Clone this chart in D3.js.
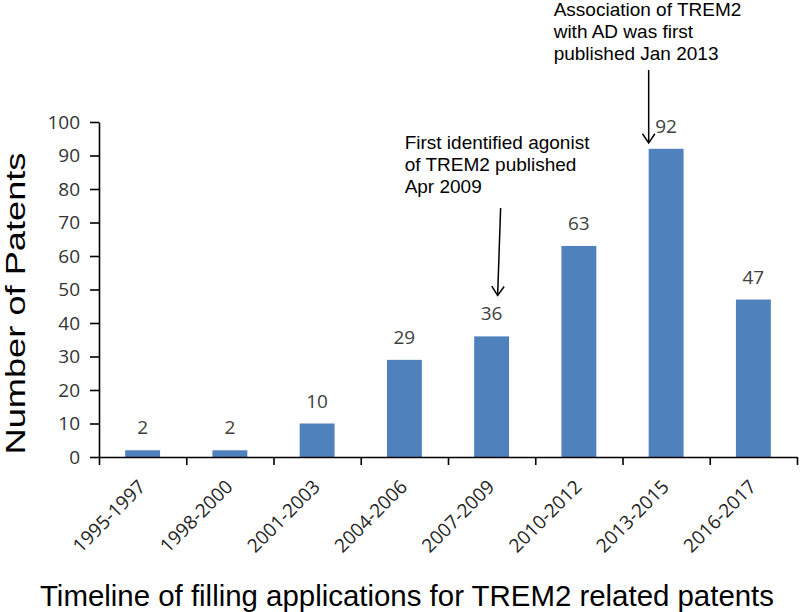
<!DOCTYPE html>
<html>
<head>
<meta charset="utf-8">
<script src="https://cdn.jsdelivr.net/npm/d3@7"></script>
<style>
  html, body { margin: 0; padding: 0; background: #fff; }
  svg { display: block; }
</style>
</head>
<body>
<svg id="chart" width="800" height="612"></svg>
<script>
const categories = ["1995-1997", "1998-2000", "2001-2003", "2004-2006", "2007-2009", "2010-2012", "2013-2015", "2016-2017"];
const patents = [2, 2, 10, 29, 36, 63, 92, 47];
const yTicks = [0, 10, 20, 30, 40, 50, 60, 70, 80, 90, 100];
const yTitle = "Number of Patents";
const xTitle = "Timeline of filling applications for TREM2 related patents";
const note2013 = ["Association of TREM2", "with AD was first", "published Jan 2013"];
const note2009 = ["First identified agonist", "of TREM2 published", "Apr 2009"];

(function () {
const svg = d3.select("#chart");
const pLeft = 99, pRight = 797, pTop = 122, pBottom = 457;

const x = d3.scaleBand().domain(categories).range([pLeft, pRight]).paddingInner(0.6).paddingOuter(0.3);
const y = d3.scaleLinear().domain([0, 100]).range([pBottom, pTop]);

const tickFont = "'Open Sans', sans-serif";
const arialFont = "'Liberation Sans', Arial, sans-serif";

// bars
svg.append("g").selectAll("rect").data(patents).join("rect")
  .attr("x", (d, i) => x(categories[i]))
  .attr("y", d => y(d))
  .attr("width", x.bandwidth())
  .attr("height", d => y(0) - y(d))
  .attr("fill", "#4F81BD");

// value labels
svg.append("g").selectAll("text").data(patents).join("text")
  .attr("x", (d, i) => x(categories[i]) + x.bandwidth() / 2)
  .attr("y", d => y(d) - 16)
  .attr("text-anchor", "middle")
  .attr("font-family", tickFont)
  .attr("font-size", 19)
  .attr("fill", "#404040")
  .text(d => d);

// y axis
const yAxis = svg.append("g")
  .attr("transform", `translate(${pLeft},0)`)
  .call(d3.axisLeft(y).tickValues(yTicks).tickSize(9).tickPadding(10).tickSizeOuter(0));
yAxis.select(".domain").attr("stroke", "#000").attr("stroke-width", 1.6);
yAxis.selectAll(".tick line").attr("stroke", "#000").attr("stroke-width", 1.6);
yAxis.selectAll(".tick text").attr("font-family", tickFont).attr("font-size", 19).attr("fill", "#333");

// x axis with ticks at band boundaries
const step = x.step();
const boundaries = d3.range(categories.length + 1);
const x0 = x(categories[0]) - step * 0.3;
const xb = d3.scaleLinear().domain([0, categories.length]).range([x0, x0 + step * categories.length]);
const xAxis = svg.append("g")
  .attr("transform", `translate(0,${pBottom})`)
  .call(d3.axisBottom(xb).tickValues(boundaries).tickSize(8).tickSizeOuter(0).tickFormat(""));
xAxis.select(".domain").attr("stroke", "#000").attr("stroke-width", 1.6);
xAxis.selectAll(".tick line").attr("stroke", "#000").attr("stroke-width", 1.6);

// category labels
svg.append("g").selectAll("text").data(categories).join("text")
  .attr("transform", d => `translate(${x(d) + x.bandwidth() / 2 + 4},${pBottom + 31}) rotate(-45)`)
  .attr("text-anchor", "end")
  .attr("font-family", tickFont)
  .attr("font-size", 19)
  .attr("fill", "#222")
  .text(d => d);

// axis titles
svg.append("text")
  .attr("transform", `translate(25,${(pTop + pBottom) / 2 + 14}) rotate(-90)`)
  .attr("text-anchor", "middle")
  .attr("font-family", arialFont)
  .attr("font-size", 27)
  .attr("textLength", 302)
  .attr("lengthAdjust", "spacingAndGlyphs")
  .attr("fill", "#000")
  .text(yTitle);

svg.append("text")
  .attr("x", 407)
  .attr("y", 606)
  .attr("text-anchor", "middle")
  .attr("font-family", arialFont)
  .attr("font-size", 29)
  .attr("textLength", 734)
  .attr("lengthAdjust", "spacingAndGlyphs")
  .attr("fill", "#000")
  .text(xTitle);

// annotations
function note(lines, nx, ny) {
  svg.append("g").selectAll("text").data(lines).join("text")
    .attr("x", nx)
    .attr("y", (d, i) => ny + i * 22)
    .attr("font-family", arialFont)
    .attr("font-size", 19)
    .attr("fill", "#000")
    .text(d => d);
}
function arrow(x1, y1, x2, y2) {
  const g = svg.append("g").attr("stroke", "#000").attr("stroke-width", 1.5).attr("fill", "none");
  g.append("line").attr("x1", x1).attr("y1", y1).attr("x2", x2).attr("y2", y2);
  const ang = Math.atan2(y2 - y1, x2 - x1);
  const L = 11, w = 0.6;
  g.append("path").attr("d",
    `M${x2 - L * Math.cos(ang - w)},${y2 - L * Math.sin(ang - w)} L${x2},${y2} L${x2 - L * Math.cos(ang + w)},${y2 - L * Math.sin(ang + w)}`);
}

const bar13 = x("2013-2015");
note(note2013, bar13 - 95, 16);
arrow(bar13, 70, bar13, y(92) - 6);

const bar09 = x("2007-2009") + x.bandwidth() / 2;
note(note2009, bar09 - 87, 149);
arrow(bar09 + 9, 208, bar09 + 6, y(36) - 41);
})();
</script>
</body>
</html>
